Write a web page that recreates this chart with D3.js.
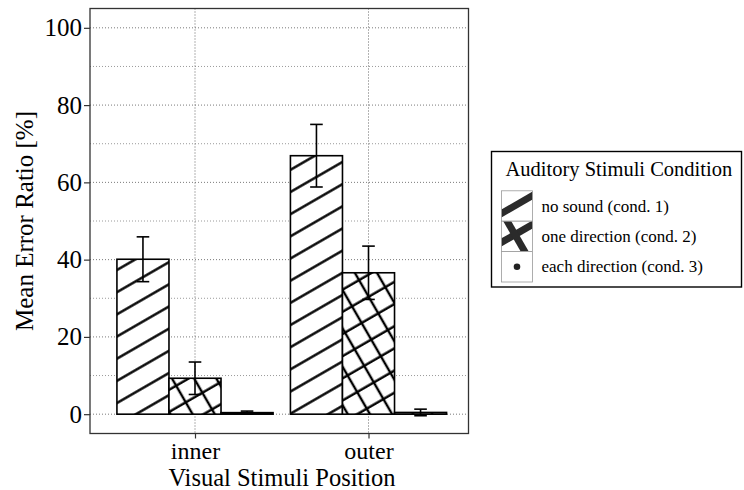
<!DOCTYPE html>
<html>
<head>
<meta charset="utf-8">
<script src="https://cdn.jsdelivr.net/npm/d3@7"></script>
<style>
  html, body { margin: 0; padding: 0; background: #fff; }
  svg { display: block; }
  text { font-family: "Liberation Serif", "Times New Roman", serif; fill: #000; }
</style>
</head>
<body>
<svg id="chart" width="744" height="490"></svg>
<script>
// Visual stimuli positions (x categories) and auditory conditions (dodged bars)
const positions = ["inner", "outer"];
const conditions = ["no sound (cond. 1)", "one direction (cond. 2)", "each direction (cond. 3)"];
const conditionKeys = ["cond1", "cond2", "cond3"];

// Mean error ratio [%] per condition, one array per position
const meanInner = [40.1, 9.3, 0.4];
const meanOuter = [66.9, 36.6, 0.45];
// Error bar half-widths [%]
const errInner = [5.8, 4.2, 0.4];
const errOuter = [8.1, 6.9, 0.85];

const yTicks = [0, 20, 40, 60, 80, 100];
const yMinor = [10, 30, 50, 70, 90];

const legendTitle = "Auditory Stimuli Condition";
const xTitle = "Visual Stimuli Position";
const yTitle = "Mean Error Ratio [%]";

// long-format table built from the arrays above
const rows = [];
positions.forEach((p, i) => {
  const means = i === 0 ? meanInner : meanOuter;
  const errs = i === 0 ? errInner : errOuter;
  conditionKeys.forEach((c, j) => rows.push({ pos: p, cond: c, mean: means[j], err: errs[j] }));
});

const svg = d3.select("#chart");
const panel = { left: 90, right: 468.5, top: 8.5, bottom: 433.5 };

const x = d3.scalePoint().domain(positions).range([195, 368.5]);
const groupWidth = 0.9 * x.step();
const xInner = d3.scaleBand().domain(conditionKeys).range([-groupWidth / 2, groupWidth / 2]).padding(0);
const y = d3.scaleLinear().domain([-5, 105]).range([panel.bottom, panel.top]);

// ---- hatch patterns (user space, so stripes line up across bars) ----
const defs = svg.append("defs");
function stripePattern(id, angle, spacing, offset, width) {
  const pat = defs.append("pattern")
    .attr("id", id)
    .attr("patternUnits", "userSpaceOnUse")
    .attr("width", spacing).attr("height", spacing)
    .attr("patternTransform", `rotate(${angle})`);
  [offset - spacing, offset, offset + spacing].forEach(o => {
    pat.append("line")
      .attr("x1", -1).attr("x2", spacing + 1)
      .attr("y1", o).attr("y2", o)
      .attr("stroke", "#000").attr("stroke-width", width);
  });
  return pat;
}
const sp = 19.2;
stripePattern("p-cond1", -30, sp, 4.3, 2.4);
// crosshatch: two perpendicular stripe sets layered
stripePattern("p-cond2a", -30, sp, 18.9, 2.4);
stripePattern("p-cond2b", 60, sp, 1.9, 2.4);
// dots
const dot = defs.append("pattern")
  .attr("id", "p-cond3").attr("patternUnits", "userSpaceOnUse")
  .attr("width", sp).attr("height", sp);
dot.append("circle").attr("cx", sp / 2).attr("cy", sp / 2).attr("r", 1.5).attr("fill", "#000");

// ---- grid ----
const grid = svg.append("g");
grid.selectAll("line.minor").data(yMinor).join("line")
  .attr("x1", panel.left).attr("x2", panel.right)
  .attr("y1", d => y(d)).attr("y2", d => y(d))
  .attr("stroke", "#9a9a9a").attr("stroke-width", 1).attr("stroke-dasharray", "1,2");
grid.selectAll("line.major").data(yTicks).join("line")
  .attr("x1", panel.left).attr("x2", panel.right)
  .attr("y1", d => y(d)).attr("y2", d => y(d))
  .attr("stroke", "#7a7a7a").attr("stroke-width", 1).attr("stroke-dasharray", "1,2");
grid.selectAll("line.vx").data(positions).join("line")
  .attr("x1", d => x(d)).attr("x2", d => x(d))
  .attr("y1", panel.top).attr("y2", panel.bottom)
  .attr("stroke", "#666").attr("stroke-width", 1).attr("stroke-dasharray", "1,2");

// ---- bars ----
const barX = d => x(d.pos) + xInner(d.cond);
const bw = xInner.bandwidth();
const bars = svg.append("g");
rows.forEach(d => {
  const fills = d.cond === "cond2" ? ["p-cond2a", "p-cond2b"] : [d.cond === "cond1" ? "p-cond1" : "p-cond3"];
  const bar = () => bars.append("rect")
    .attr("x", barX(d)).attr("width", bw)
    .attr("y", y(d.mean)).attr("height", y(0) - y(d.mean));
  bar().attr("fill", "#fff");
  fills.forEach(f => bar().attr("fill", `url(#${f})`));
  bar().attr("fill", "none").attr("stroke", "#000").attr("stroke-width", 1.6);
});

// ---- error bars ----
const capW = 12.6;
const eb = svg.append("g").attr("stroke", "#000").attr("stroke-width", 1.6).attr("fill", "none");
rows.forEach(d => {
  const cx = barX(d) + bw / 2;
  const lo = d.mean - d.err, hi = d.mean + d.err;
  eb.append("line").attr("x1", cx).attr("x2", cx).attr("y1", y(lo)).attr("y2", y(hi));
  eb.append("line").attr("x1", cx - capW / 2).attr("x2", cx + capW / 2).attr("y1", y(hi)).attr("y2", y(hi));
  eb.append("line").attr("x1", cx - capW / 2).attr("x2", cx + capW / 2).attr("y1", y(lo)).attr("y2", y(lo));
});

// ---- panel border ----
svg.append("rect")
  .attr("x", panel.left).attr("y", panel.top)
  .attr("width", panel.right - panel.left).attr("height", panel.bottom - panel.top)
  .attr("fill", "none").attr("stroke", "#333").attr("stroke-width", 1.3);

// ---- axes ----
const yAxis = d3.axisLeft(y).tickValues(yTicks).tickSize(6).tickPadding(2);
const gy = svg.append("g").attr("transform", `translate(${panel.left},0)`).call(yAxis);
gy.select(".domain").remove();
gy.selectAll(".tick line").attr("stroke", "#333").attr("stroke-width", 1.2);
gy.selectAll(".tick text").style("font-family", "Liberation Serif").attr("font-size", 25).attr("fill", "#000");

const xAxis = d3.axisBottom(x).tickSize(5).tickPadding(3);
const gx = svg.append("g").attr("transform", `translate(0,${panel.bottom})`).call(xAxis);
gx.select(".domain").remove();
gx.selectAll(".tick line").attr("stroke", "#333").attr("stroke-width", 1.2);
gx.selectAll(".tick text").style("font-family", "Liberation Serif").attr("font-size", 24).attr("fill", "#000")
  .attr("dy", null).attr("y", 25);

svg.append("text").attr("x", 282).attr("y", 485.5).attr("text-anchor", "middle")
  .attr("font-size", 24.5).text(xTitle);
svg.append("text").attr("transform", `translate(33,${(panel.top + panel.bottom) / 2}) rotate(-90)`)
  .attr("text-anchor", "middle").attr("font-size", 25).text(yTitle);

// ---- legend ----
const lg = { x: 491.5, y: 151.5, w: 250, h: 135.5 };
const leg = svg.append("g");
leg.append("rect").attr("x", lg.x).attr("y", lg.y).attr("width", lg.w).attr("height", lg.h)
  .attr("fill", "#fff").attr("stroke", "#000").attr("stroke-width", 1.4);
leg.append("text").attr("x", 505.5).attr("y", 176).attr("font-size", 20.5).text(legendTitle);

const keyX = 501.5, keyW = 31, keyH = 30.4, keyY0 = 190.8;
conditions.forEach((label, i) => {
  const ky = keyY0 + i * keyH;
  const cx = keyX + keyW / 2, cy = ky + keyH / 2;
  const clipId = `key-clip-${i}`;
  defs.append("clipPath").attr("id", clipId)
    .append("rect").attr("x", keyX).attr("y", ky).attr("width", keyW).attr("height", keyH);
  const kg = leg.append("g");
  kg.append("rect").attr("x", keyX).attr("y", ky).attr("width", keyW).attr("height", keyH).attr("fill", "#fff");
  const marks = kg.append("g").attr("clip-path", `url(#${clipId})`);
  const stripe = (ang, dx, dy) => {
    const r = 30, a = ang * Math.PI / 180;
    marks.append("line")
      .attr("x1", cx + dx - r * Math.cos(a)).attr("y1", cy + dy + r * Math.sin(a))
      .attr("x2", cx + dx + r * Math.cos(a)).attr("y2", cy + dy - r * Math.sin(a))
      .attr("stroke", "#2b2b2b").attr("stroke-width", 7);
  };
  if (i === 0) stripe(30, 0, -1.5);
  if (i === 1) { stripe(30, 0, -3); stripe(-60, -1, 0); }
  if (i === 2) marks.append("circle").attr("cx", cx).attr("cy", cy).attr("r", 3.3).attr("fill", "#222");
  kg.append("rect").attr("x", keyX).attr("y", ky).attr("width", keyW).attr("height", keyH)
    .attr("fill", "none").attr("stroke", "#9a9a9a").attr("stroke-width", 0.8);
  leg.append("text").attr("x", 541.5).attr("y", cy).attr("dy", "0.33em")
    .attr("font-size", 17).text(label);
});
</script>
</body>
</html>
